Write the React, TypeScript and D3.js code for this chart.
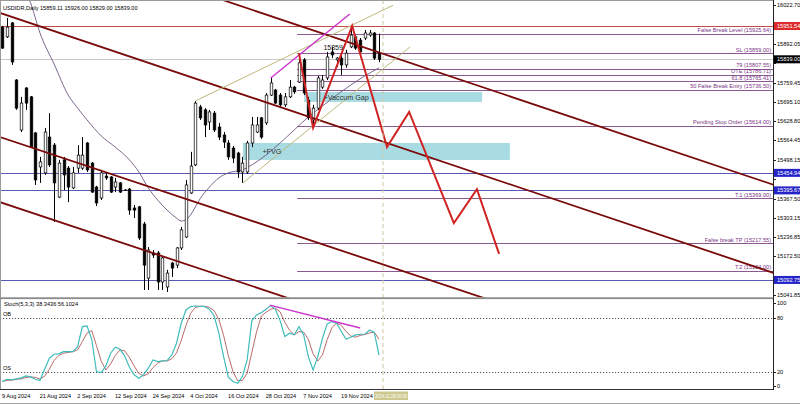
import React from 'react';
import * as d3 from 'd3';

const width = 800;
const height = 404;
const plotRight = 773;

// daily bars, first one (index -1) is the partly hidden 8 Aug bar
const firstBar = -1;
const opens = [15948, 15915, 15962, 15769, 15600, 15742, 15712, 15590, 15475, 15455, 15576, 15549, 15373, 15499, 15471, 15404, 15471, 15471, 15556, 15488, 15407, 15370, 15444, 15441, 15407, 15421, 15397, 15400, 15336, 15340, 15282, 15099, 15184, 15184, 15086, 15069, 15150, 15143, 15201, 15238, 15387, 15482, 15678, 15668, 15627, 15657, 15610, 15583, 15556, 15539, 15522, 15458, 15458, 15556, 15593, 15641, 15624, 15718, 15735, 15718, 15685, 15712, 15745, 15762, 15837, 15701, 15634, 15674, 15745, 15776, 15864, 15837, 15843, 15820, 15881, 15915, 15904, 15911, 15921, 15928, 15859.11];
const highs = [15952, 15979, 15965, 15772, 15712, 15745, 15715, 15593, 15509, 15607, 15657, 15556, 15499, 15509, 15478, 15475, 15549, 15576, 15559, 15492, 15411, 15465, 15458, 15444, 15438, 15424, 15400, 15404, 15346, 15343, 15289, 15204, 15194, 15191, 15174, 15127, 15154, 15204, 15272, 15431, 15526, 15698, 15685, 15674, 15668, 15664, 15624, 15593, 15566, 15546, 15526, 15509, 15563, 15644, 15644, 15644, 15725, 15776, 15739, 15725, 15725, 15769, 15749, 15860, 15843, 15712, 15685, 15783, 15786, 15864, 15881, 15847, 15854, 15871, 15948, 15921, 15911, 15938, 15938, 15931, 15926.0];
const lows = [15874, 15911, 15820, 15668, 15593, 15668, 15539, 15414, 15421, 15448, 15475, 15289, 15370, 15397, 15356, 15400, 15455, 15465, 15458, 15387, 15343, 15363, 15431, 15387, 15390, 15387, 15394, 15313, 15302, 15228, 15059, 15059, 15167, 15059, 15059, 15052, 15103, 15133, 15194, 15235, 15384, 15478, 15634, 15576, 15600, 15593, 15566, 15539, 15499, 15488, 15438, 15421, 15451, 15542, 15590, 15570, 15617, 15715, 15688, 15674, 15678, 15708, 15722, 15759, 15718, 15634, 15610, 15668, 15739, 15769, 15843, 15813, 15786, 15810, 15877, 15871, 15860, 15904, 15915, 15837, 15829.0];
const closes = [15877, 15948, 15830, 15674, 15691, 15691, 15542, 15431, 15492, 15593, 15482, 15421, 15488, 15448, 15407, 15455, 15515, 15515, 15465, 15390, 15353, 15455, 15438, 15390, 15424, 15390, 15396, 15329, 15329, 15235, 15143, 15194, 15177, 15086, 15167, 15116, 15133, 15201, 15262, 15414, 15478, 15691, 15641, 15617, 15661, 15600, 15576, 15559, 15509, 15505, 15458, 15488, 15556, 15617, 15617, 15576, 15718, 15759, 15691, 15685, 15712, 15745, 15729, 15827, 15725, 15641, 15674, 15776, 15769, 15847, 15854, 15843, 15820, 15860, 15921, 15877, 15864, 15928, 15928, 15843, 15839.0];

// moving average (bar index, value)
const maBars = [3, 5, 7, 10, 13, 15, 17, 20, 23, 26, 28, 30, 32, 34, 36, 37, 38, 39, 40, 41, 43, 45, 47, 50, 52, 55, 58, 61, 64, 67, 70, 73, 76, 79];
const maValues = [16090, 16030, 15928, 15823, 15718, 15674, 15634, 15580, 15542, 15499, 15458, 15404, 15363, 15329, 15302, 15292, 15296, 15313, 15340, 15367, 15407, 15438, 15455, 15465, 15482, 15515, 15556, 15600, 15644, 15681, 15718, 15752, 15783, 15810];

// Stoch(5,3,3) main line, one value per bar from index -1
const stochK = [9.1, 11.6, 10.9, 12.0, 13.1, 15.3, 14.2, 11.6, 10.2, 23.1, 35.0, 39.4, 39.8, 42.3, 42.3, 42.3, 47.9, 70.1, 70.8, 56.0, 20.2, 19.0, 26.4, 40.5, 47.2, 44.9, 37.5, 25.0, 16.5, 12.8, 16.5, 23.9, 33.1, 31.3, 32.0, 32.4, 38.7, 51.6, 73.8, 88.6, 92.3, 93.0, 92.7, 92.3, 89.3, 81.9, 62.7, 36.8, 13.9, 9.1, 7.2, 14.6, 33.1, 76.8, 83.1, 85.6, 89.3, 93.4, 89.3, 76.8, 59.0, 62.7, 60.9, 70.1, 60.9, 36.8, 22.0, 36.8, 57.2, 73.1, 75.7, 73.8, 64.6, 56.0, 58.3, 60.9, 61.6, 61.6, 66.3, 63.6636, 38.3436];

const dateBars = [0, 8, 16, 24, 32, 40, 48, 56, 64, 72];
const dateLabels = ['9 Aug 2024', '21 Aug 2024', '2 Sep 2024', '12 Sep 2024', '24 Sep 2024', '4 Oct 2024', '16 Oct 2024', '28 Oct 2024', '7 Nov 2024', '19 Nov 2024'];
const priceTicks = [16022.7, 15958.35, 15892.05, 15826.75, 15759.45, 15695.1, 15628.8, 15564.45, 15498.15, 15433.8, 15367.5, 15303.15, 15236.85, 15172.5, 15106.2, 15041.85];
const stochTicks = [100, 80, 20, 0];
const stochLevels = [80, 20];
const stochLevelNames = ['OB', 'OS'];

// named levels drawn from the 28 Oct swing to the right edge
const levelStartBar = 61.6;
const levelNames = ['False Break Level', 'SL', '79', 'OTE', '61.8', '50 False Break Entry', 'Pending Stop Order', 'T.1', 'False break TP', 'T.2'];
const levelPrices = [15925.64, 15859.0, 15807.55, 15786.71, 15765.41, 15736.5, 15614.0, 15369.0, 15217.55, 15124.0];

// full width lines with a marker on the price axis
const redLevel = 15951.54;
const blueLevels = [15454.94, 15395.67, 15092.75];
const bidPrice = 15839.0;

// descending channel, each line through two (bar, price) points
const channelLines = [
  [48, 16028, 147, 15499],
  [-1.5, 15996, 147, 15201],
  [-1.5, 15576, 98, 15049],
  [-1.5, 15356, 59, 15035],
];
const wedgeLines = [
  [40, 15698, 82, 16022],
  [50.1, 15421, 85.6, 15881],
];
const trendTop = [56, 15776, 72.8, 15992];

const zigzagBars = [62, 65, 73.3, 80.7, 85.4, 94.9, 99.8, 104.5];
const zigzagPrices = [15860, 15607, 15952, 15542, 15661, 15285, 15400, 15181];

const zoneNames = ['+Vaccum Gap', '+FVG'];
const zoneFrom = [63.1, 50.1];
const zoneTo = [100.9, 106.8];
const zoneLow = [15694.8, 15498.5];
const zoneHigh = [15728.5, 15556.0];

const noteText = '15859';
const noteBar = 67.2;
const notePrice = 15870;

const cursorBar = 79.85;
const cursorLabel = '2024.11.28 00:00';

const font = 'Liberation Sans, Arial, sans-serif';
const fmt = d3.format('.2f');

const App = () => {
  const x = d3.scaleLinear().domain([0, 79]).range([7, 379]);
  const y = d3.scaleLinear().domain([15041.85, 16022.7]).range([295, 5]);
  const ys = d3.scaleLinear().domain([0, 100]).range([389.7, 299.7]);

  const bars = opens.map((o, k) => ({ i: firstBar + k, o, h: highs[k], l: lows[k], c: closes[k] }));
  const last = bars[bars.length - 1];

  const kPoints = stochK.map((v, k) => [firstBar + k, v] as [number, number]);
  const dPoints = stochK.map((_, k) => {
    const win = stochK.slice(Math.max(0, k - 2), k + 1);
    return [firstBar + k, d3.mean(win) as number] as [number, number];
  });
  const kLast = stochK[stochK.length - 1];
  const dLast = dPoints[dPoints.length - 1][1];

  const stochLine = d3.line<[number, number]>().x(d => x(d[0])).y(d => ys(d[1]));
  const maLine = d3
    .line<number>()
    .x((_, k) => x(maBars[k]))
    .y(d => y(d))
    .curve(d3.curveMonotoneX);
  const zigzag = d3
    .line<number>()
    .x((_, k) => x(zigzagBars[k]))
    .y(d => y(d));

  const extend = (l: number[], a: number, b: number) => {
    const s = (l[3] - l[1]) / (l[2] - l[0]);
    return { x1: x(a), y1: y(l[1] + s * (a - l[0])), x2: x(b), y2: y(l[1] + s * (b - l[0])) };
  };

  const markers = [redLevel, bidPrice, ...blueLevels];
  // axis labels hidden under a marker box are left out, the tick stays
  const visibleTick = (t: number) => markers.every(m => Math.abs(y(m) - y(t)) > 7.5);

  const labelStyle = { fontFamily: font, fontSize: 5.6 };

  return (
    <svg
      width={width}
      height={height}
      style={{ position: 'absolute', left: 0, top: 0, display: 'block', background: '#fff' }}
    >
      <defs>
        <clipPath id="main">
          <rect x={1} y={1} width={plotRight - 1} height={296.5} />
        </clipPath>
        <clipPath id="stoch">
          <rect x={1} y={299.5} width={plotRight - 1} height={90} />
        </clipPath>
      </defs>

      <g clipPath="url(#main)">
        {zoneNames.map((n, k) => (
          <rect
            key={n}
            x={x(zoneFrom[k])}
            y={y(zoneHigh[k])}
            width={x(zoneTo[k]) - x(zoneFrom[k])}
            height={y(zoneLow[k]) - y(zoneHigh[k])}
            fill="#a9dce2"
          />
        ))}
        <line x1={0} x2={plotRight} y1={Math.round(y(redLevel)) + 0.5} y2={Math.round(y(redLevel)) + 0.5} stroke="#c24a4a" />
        <line x1={0} x2={plotRight} y1={Math.round(y(bidPrice)) + 0.5} y2={Math.round(y(bidPrice)) + 0.5} stroke="#c8c8c8" />
        {blueLevels.map(p => (
          <line key={p} x1={0} x2={plotRight} y1={Math.round(y(p)) + 0.5} y2={Math.round(y(p)) + 0.5} stroke="#5a5ab4" />
        ))}
        {levelPrices.map((p, k) => (
          <g key={levelNames[k]}>
            <line x1={x(levelStartBar)} x2={plotRight} y1={Math.round(y(p)) + 0.5} y2={Math.round(y(p)) + 0.5} stroke="#8c5a92" />
            <text x={plotRight - 2} y={y(p) - 1.5} textAnchor="end" fill="#7a3486" style={labelStyle}>
              {`${levelNames[k]} (${fmt(p)})`}
            </text>
          </g>
        ))}
        <path d={maLine(maValues) || ''} fill="none" stroke="#6e5680" strokeWidth={0.9} />

        {bars.map(b => {
          const cx = Math.round(x(b.i)) + 0.5;
          const top = y(Math.max(b.o, b.c));
          const bot = y(Math.min(b.o, b.c));
          const bull = b.c > b.o;
          return (
            <g key={b.i}>
              <line x1={cx} x2={cx} y1={y(b.h)} y2={y(b.l)} stroke="#000" strokeWidth={1} />
              <rect
                x={cx - 1.3}
                y={top}
                width={2.6}
                height={Math.max(bot - top, 0.6)}
                fill={bull ? '#fff' : '#000'}
                stroke="#000"
                strokeWidth={0.7}
              />
            </g>
          );
        })}

        {channelLines.map((l, k) => {
          const e = extend(l, -4, 170);
          return <line key={k} {...e} stroke="#7a0a0a" strokeWidth={1.8} />;
        })}
        {wedgeLines.map((l, k) => (
          <line key={k} x1={x(l[0])} y1={y(l[1])} x2={x(l[2])} y2={y(l[3])} stroke="#bdb878" strokeWidth={1} />
        ))}
        <line x1={x(trendTop[0])} y1={y(trendTop[1])} x2={x(trendTop[2])} y2={y(trendTop[3])} stroke="#cc33cc" strokeWidth={1.4} />
        <path d={zigzag(zigzagPrices) || ''} fill="none" stroke="#d02424" strokeWidth={2} strokeLinejoin="miter" />

        {zoneNames.map((n, k) => (
          <text
            key={n}
            x={x(zoneFrom[k]) + 19.5}
            y={(y(zoneHigh[k]) + y(zoneLow[k])) / 2 + 2.6}
            fill="#333"
            style={{ fontFamily: font, fontSize: 7.2 }}
          >
            {n}
          </text>
        ))}
        <text x={x(noteBar)} y={y(notePrice)} fill="#111" style={{ fontFamily: font, fontSize: 7 }}>
          {noteText}
        </text>
      </g>

      <text x={3} y={10} fill="#000" style={labelStyle}>
        {`USDIDR,Daily  ${fmt(last.o)} ${fmt(last.h)} ${fmt(last.l)} ${fmt(last.c)}`}
      </text>

      {/* stochastic panel */}
      <g clipPath="url(#stoch)">
        {stochLevels.map((v, k) => (
          <g key={v}>
            <line x1={0} x2={plotRight} y1={Math.round(ys(v)) + 0.5} y2={Math.round(ys(v)) + 0.5} stroke="#555" strokeDasharray="1.2 1.8" />
            <text x={3} y={ys(v) - 1.5} fill="#000" style={labelStyle}>
              {stochLevelNames[k]}
            </text>
          </g>
        ))}
        <path d={stochLine(dPoints) || ''} fill="none" stroke="#b25a5a" strokeWidth={0.9} />
        <path d={stochLine(kPoints) || ''} fill="none" stroke="#3fbcbc" strokeWidth={1.2} />
        <line x1={x(55.8)} y1={ys(94)} x2={x(75)} y2={ys(68.6)} stroke="#cc33cc" strokeWidth={1.4} />
      </g>
      <text x={4} y={306} fill="#000" style={labelStyle}>
        {`Stoch(5,3,3) ${kLast.toFixed(4)} ${dLast.toFixed(4)}`}
      </text>

      {/* cursor time line */}
      <line x1={x(cursorBar)} x2={x(cursorBar)} y1={0} y2={390} stroke="#cfc7a6" strokeDasharray="4 3" />

      {/* frames */}
      <line x1={0.5} x2={0.5} y1={0} y2={390} stroke="#9a9a9a" />
      <line x1={0} x2={plotRight} y1={0.5} y2={0.5} stroke="#9a9a9a" />
      <rect x={0} y={297.3} width={plotRight} height={1.8} fill="#8a8a8a" />
      <line x1={0} x2={plotRight} y1={389.5} y2={389.5} stroke="#333" />
      <line x1={0} x2={width} y1={403.5} y2={403.5} stroke="#a0a0a0" />
      <line x1={plotRight + 0.5} x2={plotRight + 0.5} y1={0} y2={390} stroke="#222" />

      {/* price axis */}
      {priceTicks.map(t => (
        <g key={t}>
          <line x1={plotRight} x2={plotRight + 3} y1={Math.round(y(t)) + 0.5} y2={Math.round(y(t)) + 0.5} stroke="#222" />
          {visibleTick(t) && (
            <text x={plotRight + 4} y={y(t) + 2} fill="#000" style={labelStyle}>
              {fmt(t)}
            </text>
          )}
        </g>
      ))}
      {markers.map((p, k) => (
        <g key={p}>
          <rect
            x={plotRight + 1}
            y={y(p) - 4}
            width={width - plotRight - 1}
            height={8}
            fill={k === 0 ? '#dc2a2a' : k === 1 ? '#000' : '#2424c8'}
          />
          <text x={plotRight + 4} y={y(p) + 2} fill="#fff" style={labelStyle}>
            {fmt(p)}
          </text>
        </g>
      ))}
      {stochTicks.map((t, k) => {
        const ty = k === 0 ? ys(t) + 3.5 : k === stochTicks.length - 1 ? ys(t) - 3.5 : ys(t);
        return (
          <g key={t}>
            <line x1={plotRight} x2={plotRight + 3} y1={Math.round(ty) + 0.5} y2={Math.round(ty) + 0.5} stroke="#222" />
            <text x={plotRight + 4} y={ty + 2} fill="#000" style={labelStyle}>
              {t}
            </text>
          </g>
        );
      })}

      {/* time axis */}
      {dateBars.map((b, k) => (
        <text key={b} x={x(b) - 5} y={398} fill="#000" style={labelStyle}>
          {dateLabels[k]}
        </text>
      ))}
      <rect x={x(cursorBar) - 9} y={391.5} width={34} height={8.5} fill="#cdc98e" />
      <text
        x={x(cursorBar) - 8}
        y={398}
        textLength={32}
        lengthAdjust="spacingAndGlyphs"
        fill="#fff"
        style={{ fontFamily: font, fontSize: 5.2 }}
      >
        {cursorLabel}
      </text>
    </svg>
  );
};

export default App;
